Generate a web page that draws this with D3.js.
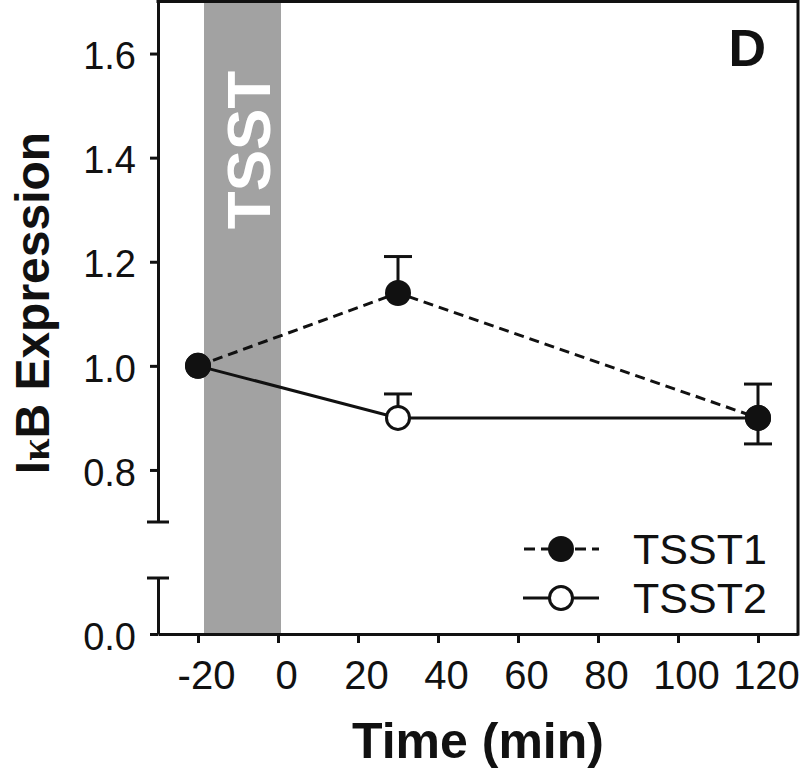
<!DOCTYPE html>
<html>
<head>
<meta charset="utf-8">
<script src="https://cdn.jsdelivr.net/npm/d3@7"></script>
<style>
html,body{margin:0;padding:0;background:#fff;}
svg{display:block;}
text{font-family:"Liberation Sans",Arial,Helvetica,sans-serif;}
</style>
</head>
<body>
<script>
// ---- data ----
const times = [-20, 30, 120];
const tsst1 = [1.0, 1.14, 0.9];
const tsst2 = [1.0, 0.9, 0.9];
const tsst1ErrUp = [0, 0.07, 0.065];
const tsst1ErrDown = [0, 0, 0];
const tsst2ErrUp = [0, 0.046, 0];
const tsst2ErrDown = [0, 0, 0.05];
const xTicks = [-20, 0, 20, 40, 60, 80, 100, 120];
const yTicksHigh = [0.8, 1.0, 1.2, 1.4, 1.6];
const yTicksLow = [0.0];
const stressBand = [-18.5, 0.75];
const seriesNames = ["TSST1", "TSST2"];

const W = 800, H = 770;
const svg = d3.select("body").append("svg").attr("width", W).attr("height", H);

const x = d3.scaleLinear().domain([-30, 130]).range([158, 798]);
const yHigh = d3.scaleLinear().domain([0.7, 1.7]).range([522, 1.5]);
const yLow = d3.scaleLinear().domain([0, 0.107]).range([634, 578]);
const y = v => v >= 0.7 ? yHigh(v) : yLow(v);

const ink = "#111";

// grey TSST band
svg.append("rect")
  .attr("x", x(stressBand[0])).attr("y", yHigh(1.7))
  .attr("width", x(stressBand[1]) - x(stressBand[0]))
  .attr("height", yLow(0) - yHigh(1.7))
  .attr("fill", "#a2a2a2");

svg.append("text")
  .attr("transform", `translate(${x(stressBand[1]) - 11},150) rotate(-90)`)
  .attr("text-anchor", "middle")
  .attr("font-weight", "bold").attr("font-size", 62)
  .attr("fill", "#fff").text("TSST");

// axes
const styleAxis = (g, fs) => {
  g.selectAll(".domain").attr("stroke", ink).attr("stroke-width", 3);
  g.selectAll(".tick line").attr("stroke", ink).attr("stroke-width", 3);
  g.selectAll(".tick text").attr("fill", ink).attr("font-size", fs)
    .attr("font-family", "'Liberation Sans',Arial,sans-serif");
};

const gx = svg.append("g").attr("transform", `translate(0,${yLow(0)})`)
  .call(d3.axisBottom(x).tickValues(xTicks).tickSize(9).tickSizeOuter(0).tickFormat(d => String(d)))
  .call(styleAxis, 40);
gx.selectAll(".tick text").attr("x", 8).attr("y", 55).attr("dy", 0);

const gyh = svg.append("g").attr("transform", `translate(${x(-30)},0)`)
  .call(d3.axisLeft(yHigh).tickValues(yTicksHigh).tickSize(8).tickSizeOuter(0).tickPadding(14).tickFormat(d3.format(".1f")))
  .call(styleAxis, 38);
const gyl = svg.append("g").attr("transform", `translate(${x(-30)},0)`)
  .call(d3.axisLeft(yLow).tickValues(yTicksLow).tickSize(8).tickSizeOuter(0).tickPadding(14).tickFormat(d3.format(".1f")))
  .call(styleAxis, 38);
svg.selectAll(".tick text").filter(function(){ return this.closest("g") && d3.select(this).attr("text-anchor") !== "middle"; });
gyh.selectAll(".tick text").attr("dy", "0.4em");
gyl.selectAll(".tick text").attr("dy", "0.4em");

// break caps
[yHigh(0.7), yLow(0.107)].forEach(yy => {
  svg.append("line").attr("x1", x(-30) - 11).attr("x2", x(-30) + 11)
    .attr("y1", yy).attr("y2", yy).attr("stroke", ink).attr("stroke-width", 3);
});

// frame top & right
svg.append("line").attr("x1", x(-30) - 1.5).attr("x2", x(130)).attr("y1", yHigh(1.7)).attr("y2", yHigh(1.7))
  .attr("stroke", ink).attr("stroke-width", 3);
svg.append("line").attr("x1", x(130)).attr("x2", x(130)).attr("y1", yHigh(1.7) - 1.5).attr("y2", yLow(0) + 1.5)
  .attr("stroke", ink).attr("stroke-width", 3);

// lines
const line = d3.line().x(d => x(d[0])).y(d => y(d[1]));
const s1 = times.map((t, i) => [t, tsst1[i]]);
const s2 = times.map((t, i) => [t, tsst2[i]]);

svg.append("path").attr("d", line(s2)).attr("fill", "none").attr("stroke", ink).attr("stroke-width", 3);
svg.append("path").attr("d", line(s1)).attr("fill", "none").attr("stroke", ink).attr("stroke-width", 3)
  .attr("stroke-dasharray", "10,6");

// error bars
function errBars(vals, up, down) {
  vals.forEach((v, i) => {
    const cx = x(times[i]);
    [[up[i], 1], [down[i], -1]].forEach(([e, sgn]) => {
      if (!e) return;
      const ye = y(v + sgn * e);
      svg.append("line").attr("x1", cx).attr("x2", cx).attr("y1", y(v)).attr("y2", ye)
        .attr("stroke", ink).attr("stroke-width", 3);
      svg.append("line").attr("x1", cx - 14).attr("x2", cx + 14).attr("y1", ye).attr("y2", ye)
        .attr("stroke", ink).attr("stroke-width", 3);
    });
  });
}
errBars(tsst2, tsst2ErrUp, tsst2ErrDown);
errBars(tsst1, tsst1ErrUp, tsst1ErrDown);

// markers
svg.selectAll(".m2").data(s2).enter().append("circle")
  .attr("cx", d => x(d[0])).attr("cy", d => y(d[1])).attr("r", 11.5)
  .attr("fill", "#fff").attr("stroke", ink).attr("stroke-width", 3);
svg.selectAll(".m1").data(s1).enter().append("circle")
  .attr("cx", d => x(d[0])).attr("cy", d => y(d[1])).attr("r", 13)
  .attr("fill", ink);

// legend
const legY = [549, 598];
legY.forEach((ly, i) => {
  const l = svg.append("line").attr("x1", 523).attr("x2", 599).attr("y1", ly).attr("y2", ly)
    .attr("stroke", ink).attr("stroke-width", 3);
  if (i === 0) {
    l.attr("stroke-dasharray", "11,6").attr("x1", 524);
    svg.append("circle").attr("cx", 561).attr("cy", ly).attr("r", 13).attr("fill", ink);
  } else {
    svg.append("circle").attr("cx", 561).attr("cy", ly).attr("r", 11.5).attr("fill", "#fff")
      .attr("stroke", ink).attr("stroke-width", 3);
  }
  svg.append("text").attr("x", 633).attr("y", ly).attr("dy", "0.36em")
    .attr("font-size", 43).attr("fill", ink).text(seriesNames[i]);
});

// panel letter
svg.append("text").attr("x", 766).attr("y", 66).attr("text-anchor", "end")
  .attr("font-weight", "bold").attr("font-size", 52).attr("fill", ink).text("D");

// axis titles
svg.append("text").attr("x", 478).attr("y", 758).attr("text-anchor", "middle")
  .attr("font-weight", "bold").attr("font-size", 50).attr("fill", ink).text("Time (min)");

const yt = svg.append("text").attr("transform", "translate(49,303) rotate(-90)")
  .attr("text-anchor", "middle").attr("font-weight", "bold").attr("font-size", 48).attr("fill", ink);
yt.append("tspan").text("I");
yt.append("tspan").attr("font-family", "'Liberation Serif','DejaVu Serif',serif").attr("font-size", 40).text("κ");
yt.append("tspan").text("B Expression");
</script>
</body>
</html>
